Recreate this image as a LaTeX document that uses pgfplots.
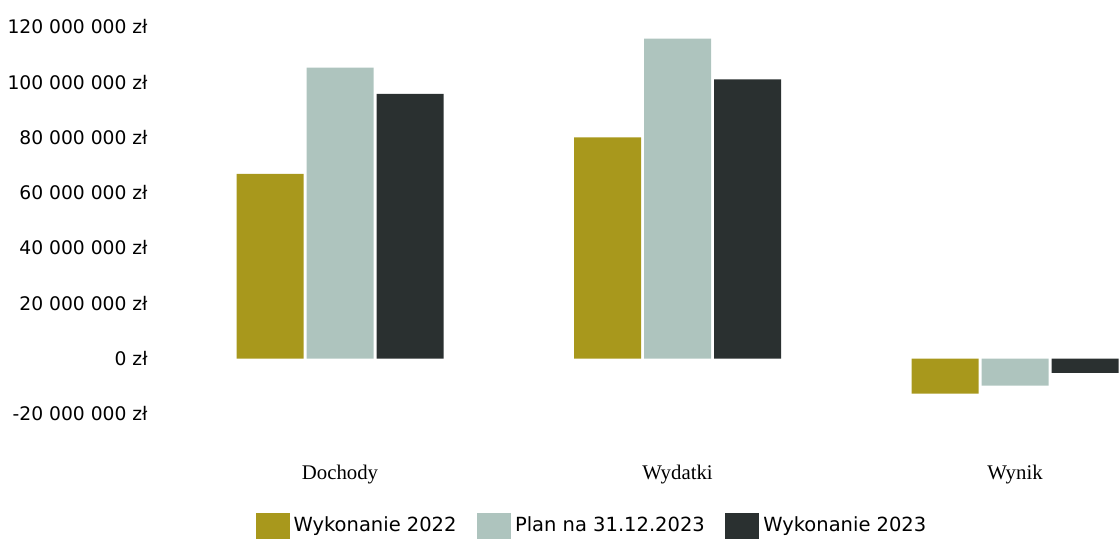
\documentclass[border=0pt]{standalone}
\usepackage{fontspec}
\setmainfont{DejaVu Sans}
\newfontfamily\catfont{Liberation Serif}
\usepackage{pgfplots}
\pgfplotsset{compat=1.18}
\definecolor{colA}{RGB}{168,152,28}
\definecolor{colB}{RGB}{174,196,190}
\definecolor{colC}{RGB}{42,48,48}
\begin{document}
\begin{tikzpicture}
\path (0,0) rectangle (559.5pt,279.5pt);
\begin{axis}[
  at={(85pt,72.5pt)}, anchor=south west,
  scale only axis, width=474.5pt, height=193.65pt,
  xmin=-0.5037, xmax=2.3081,
  ymin=-20000000, ymax=120000000,
  scaled y ticks=false,
  ybar=1.5pt, bar width=33.5pt,
  axis line style={draw=none},
  tick style={draw=none},
  clip=false,
  xtick={0,1,2},
  xticklabels={Dochody,Wydatki,Wynik},
  xticklabel style={font=\catfont\fontsize{10.4}{12}\selectfont, anchor=center, inner sep=0pt, yshift=-26pt},
  ytick={-20000000,0,20000000,40000000,60000000,80000000,100000000,120000000},
  yticklabels={-20 000 000 zł,0 zł,20 000 000 zł,40 000 000 zł,60 000 000 zł,80 000 000 zł,100 000 000 zł,120 000 000 zł},
  yticklabel style={font=\fontsize{9.35}{11}\selectfont, anchor=east, inner sep=0pt, xshift=-11pt},
  legend columns=3,
  legend style={draw=none, at={(0.4457,-0.289)}, anchor=center, font=\fontsize{9.75}{11}\selectfont,
    /tikz/every even column/.append style={column sep=8.25pt}},
  legend image code/.code={\fill[#1] (0pt,-6.5pt) rectangle (17pt,6.5pt);},
]
\addplot[fill=colA, draw=none] coordinates {(0,66800000) (1,80000000) (2,-12600000)};
\addplot[fill=colB, draw=none] coordinates {(0,105200000) (1,115700000) (2,-9700000)};
\addplot[fill=colC, draw=none] coordinates {(0,95700000) (1,101000000) (2,-5100000)};
\legend{Wykonanie 2022,Plan na 31.12.2023,Wykonanie 2023}
\end{axis}
\pgfresetboundingbox
\path (0,0) rectangle (559.5pt,279.5pt);
\end{tikzpicture}
\end{document}
